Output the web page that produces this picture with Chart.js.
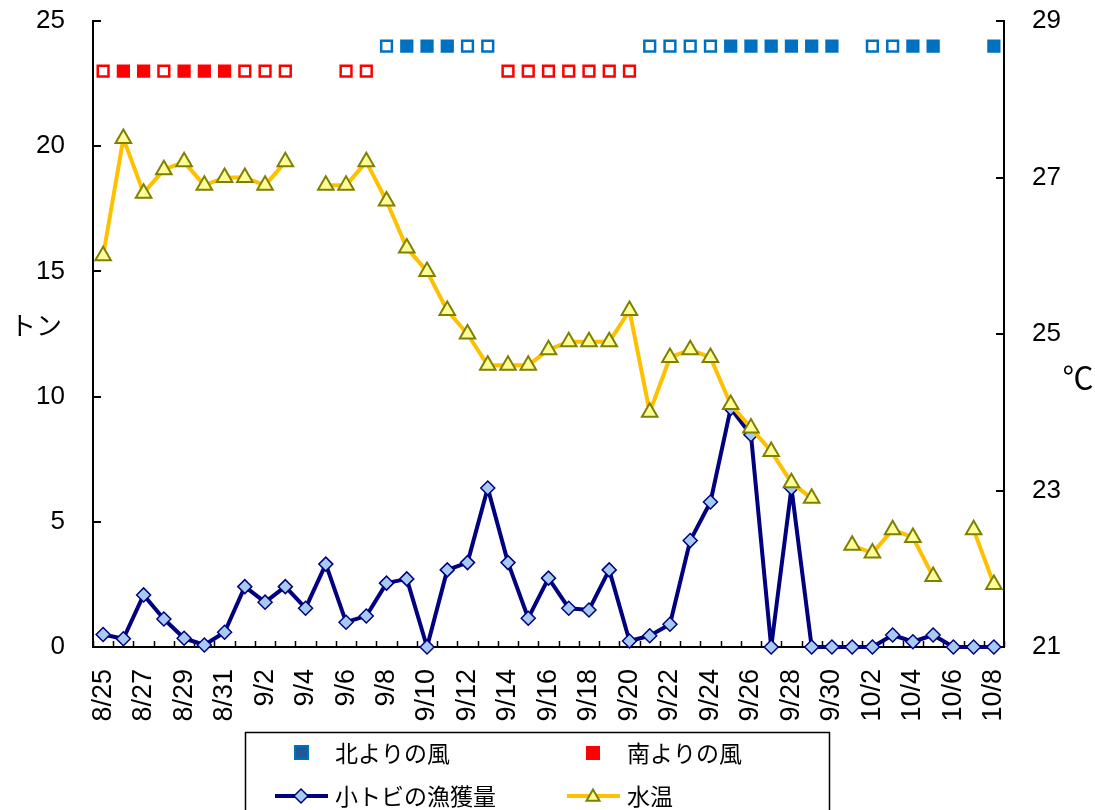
<!DOCTYPE html>
<html>
<head>
<meta charset="utf-8">
<script src="https://cdn.jsdelivr.net/npm/chart.js@4"></script>
<style>
html,body{margin:0;padding:0;background:#fff;}
#wrap{width:1095px;height:810px;position:relative;overflow:hidden;}
canvas{display:block;}
</style>
</head>
<body>
<div id="wrap"><canvas id="c" width="1095" height="810"></canvas></div>
<script>
// ---- data ----
const dates = ['8/25','8/26','8/27','8/28','8/29','8/30','8/31',
  '9/1','9/2','9/3','9/4','9/5','9/6','9/7','9/8','9/9','9/10','9/11','9/12','9/13','9/14','9/15',
  '9/16','9/17','9/18','9/19','9/20','9/21','9/22','9/23','9/24','9/25','9/26','9/27','9/28','9/29','9/30',
  '10/1','10/2','10/3','10/4','10/5','10/6','10/7','10/8'];

// 小トビの漁獲量 (トン)
const catchTons = [0.5,0.33,2.08,1.12,0.35,0.08,0.59,2.41,1.79,2.41,1.55,3.31,0.99,1.24,2.55,2.72,0,3.08,3.37,6.35,
  3.37,1.15,2.75,1.55,1.48,3.08,0.24,0.45,0.91,4.25,5.79,9.53,8.48,0,6.35,0,0,0,0,0.48,0.21,0.48,0,0,0];

// 水温 (℃)
const waterTemp = [26.0,27.5,26.8,27.1,27.2,26.9,27.0,27.0,26.9,27.2,null,26.9,26.9,27.2,26.7,26.1,25.8,25.3,25.0,24.6,
  24.6,24.6,24.8,24.9,24.9,24.9,25.3,24.0,24.7,24.8,24.7,24.1,23.8,23.5,23.1,22.9,null,22.3,22.2,22.5,22.4,21.9,null,22.5,21.8];

// 風 (0: なし, 1: 白抜き, 2: 塗りつぶし)
const northWind = [0,0,0,0,0,0,0,0,0,0, 0,0,0,0,1,2,2,2,1,1, 0,0,0,0,0,0,0,1,1,1, 1,2,2,2,2,2,2,0,1,1, 2,2,0,0,2];
const southWind = [1,2,2,1,2,2,2,1,1,1, 0,0,1,1,0,0,0,0,0,0, 1,1,1,1,1,1,1,0,0,0, 0,0,0,0,0,0,0,0,0,0, 0,0,0,0,0];

const leftTicks = [0,5,10,15,20,25];
const rightTicks = [21,23,25,27,29];

// ---- styling constants ----
const NORTH_ROW = 24, SOUTH_ROW = 23;
const BLUE = '#0070C0', RED = '#FF0000', NAVY = '#000080', GOLD = '#FFC000';
const NUM_FONT = '"Liberation Sans", Arial, sans-serif';
const JP_FONT = '"Noto Sans CJK JP", "Noto Sans", sans-serif';

const decor = {
  id: 'decor',
  beforeDatasetsDraw(chart) {
    const ctx = chart.ctx, a = chart.chartArea;
    const xs = chart.scales.x, yl = chart.scales.y, yr = chart.scales.y2;
    ctx.save();
    ctx.strokeStyle = '#000';
    ctx.lineWidth = 2;
    ctx.beginPath();
    leftTicks.forEach(v => { const y = Math.round(yl.getPixelForValue(v)); ctx.moveTo(a.left, y); ctx.lineTo(a.left + 8, y); });
    rightTicks.forEach(v => { const y = Math.round(yr.getPixelForValue(v)); ctx.moveTo(a.right - 8, y); ctx.lineTo(a.right, y); });
    ctx.stroke();
    ctx.lineWidth = 1.5;
    ctx.beginPath();
    for (let i = 0; i <= dates.length; i++) {
      const x = Math.round(xs.getPixelForValue(i - 0.5)) + 0.5;
      ctx.moveTo(x, a.bottom); ctx.lineTo(x, a.bottom - 6);
    }
    ctx.stroke();
    ctx.restore();
  },
  afterDraw(chart) {
    const ctx = chart.ctx;
    ctx.save();
    // axis titles
    ctx.fillStyle = '#000';
    ctx.textBaseline = 'middle';
    ctx.textAlign = 'center';
    ctx.font = '26px ' + JP_FONT;
    ctx.fillText('トン', 36, 325);
    ctx.font = '31px ' + JP_FONT;
    ctx.fillText('℃', 1078, 377);

    // legend box
    ctx.strokeStyle = '#000';
    ctx.lineWidth = 1.5;
    ctx.strokeRect(245.5, 732.5, 584, 120);
    ctx.font = '23px ' + JP_FONT;
    ctx.textAlign = 'left';
    const r1 = 753, r2 = 796;
    // north wind
    ctx.fillStyle = '#1F5A96'; ctx.strokeStyle = BLUE; ctx.lineWidth = 2;
    ctx.fillRect(295, r1 - 7, 13, 13); ctx.strokeRect(295, r1 - 7, 13, 13);
    ctx.fillStyle = '#000'; ctx.fillText('北よりの風', 335, r1);
    // south wind
    ctx.fillStyle = RED; ctx.fillRect(586, r1 - 7, 14, 14);
    ctx.fillStyle = '#000'; ctx.fillText('南よりの風', 627, r1);
    // catch
    ctx.strokeStyle = NAVY; ctx.lineWidth = 4;
    ctx.beginPath(); ctx.moveTo(275, r2); ctx.lineTo(328, r2); ctx.stroke();
    ctx.beginPath(); ctx.moveTo(301 - 7, r2); ctx.lineTo(301, r2 - 7); ctx.lineTo(301 + 7, r2); ctx.lineTo(301, r2 + 7); ctx.closePath();
    ctx.fillStyle = '#A6CAF0'; ctx.fill(); ctx.lineWidth = 1.5; ctx.stroke();
    ctx.fillStyle = '#000'; ctx.fillText('小トビの漁獲量', 335, r2);
    // temp
    ctx.strokeStyle = GOLD; ctx.lineWidth = 4;
    ctx.beginPath(); ctx.moveTo(567, r2); ctx.lineTo(620, r2); ctx.stroke();
    const tr = 7.5, cx = 593, cy = r2 + 1;
    ctx.beginPath(); ctx.moveTo(cx, cy - tr); ctx.lineTo(cx + tr * 0.866, cy + tr / 2); ctx.lineTo(cx - tr * 0.866, cy + tr / 2); ctx.closePath();
    ctx.fillStyle = '#FFFF99'; ctx.fill(); ctx.strokeStyle = '#808000'; ctx.lineWidth = 2; ctx.stroke();
    ctx.fillStyle = '#000'; ctx.fillText('水温', 627, r2);
    ctx.restore();
  }
};

const windDataset = (label, arr, row, color) => ({
  label,
  data: arr.map(v => v ? row : null),
  yAxisID: 'y',
  showLine: false,
  pointStyle: 'rect',
  pointRadius: 7.6,
  pointBorderWidth: 2.5,
  pointBorderColor: color,
  pointBackgroundColor: arr.map(v => v === 2 ? color : '#FFFFFF'),
  borderColor: color,
  backgroundColor: color,
  order: 0,
  clip: false
});

new Chart(document.getElementById('c'), {
  type: 'line',
  data: {
    labels: dates,
    datasets: [
      windDataset('北よりの風', northWind, NORTH_ROW, BLUE),
      windDataset('南よりの風', southWind, SOUTH_ROW, RED),
      {
        label: '水温',
        data: waterTemp,
        yAxisID: 'y2',
        borderColor: GOLD,
        borderWidth: 4,
        borderJoinStyle: 'round',
        tension: 0,
        spanGaps: false,
        pointStyle: 'triangle',
        pointRadius: 9,
        pointBorderWidth: 2,
        pointBackgroundColor: '#FFFF99',
        pointBorderColor: '#808000',
        order: 1,
        clip: false
      },
      {
        label: '小トビの漁獲量',
        data: catchTons,
        yAxisID: 'y',
        borderColor: NAVY,
        borderWidth: 4,
        borderJoinStyle: 'round',
        tension: 0,
        pointStyle: 'rectRot',
        pointRadius: 7,
        pointBorderWidth: 1.5,
        pointBackgroundColor: '#A6CAF0',
        pointBorderColor: NAVY,
        order: 2,
        clip: false
      }
    ]
  },
  options: {
    responsive: false,
    animation: false,
    events: [],
    layout: { padding: { top: 21, left: 0, right: 0, bottom: 0 } },
    plugins: { legend: { display: false }, tooltip: { enabled: false }, title: { display: false } },
    scales: {
      x: {
        type: 'category',
        offset: true,
        grid: { display: true, drawOnChartArea: false, drawTicks: false },
        border: { display: true, color: '#000', width: 2 },
        ticks: {
          autoSkip: false,
          maxRotation: 90, minRotation: 90,
          padding: 22,
          color: '#000',
          font: { family: NUM_FONT, size: 27 },
          callback: (v, i) => (i % 2 === 0 ? dates[i] : '')
        },
        afterFit: s => { s.height = 163; s.paddingLeft = 0; s.paddingRight = 0; }
      },
      y: {
        position: 'left',
        min: 0, max: 25,
        grid: { display: true, drawOnChartArea: false, drawTicks: false },
        border: { display: true, color: '#000', width: 2 },
        ticks: {
          stepSize: 5, padding: 28, color: '#000',
          font: { family: NUM_FONT, size: 26 }
        },
        afterBuildTicks: s => { s.ticks = leftTicks.map(v => ({ value: v })); },
        afterFit: s => { s.width = 93; s.paddingTop = 0; s.paddingBottom = 0; }
      },
      y2: {
        position: 'right',
        min: 21, max: 29,
        grid: { display: true, drawOnChartArea: false, drawTicks: false },
        border: { display: true, color: '#000', width: 2 },
        ticks: {
          stepSize: 2, padding: 28, color: '#000',
          font: { family: NUM_FONT, size: 26 }
        },
        afterBuildTicks: s => { s.ticks = rightTicks.map(v => ({ value: v })); },
        afterFit: s => { s.width = 91; s.paddingTop = 0; s.paddingBottom = 0; }
      }
    }
  },
  plugins: [decor]
});
</script>
</body>
</html>
